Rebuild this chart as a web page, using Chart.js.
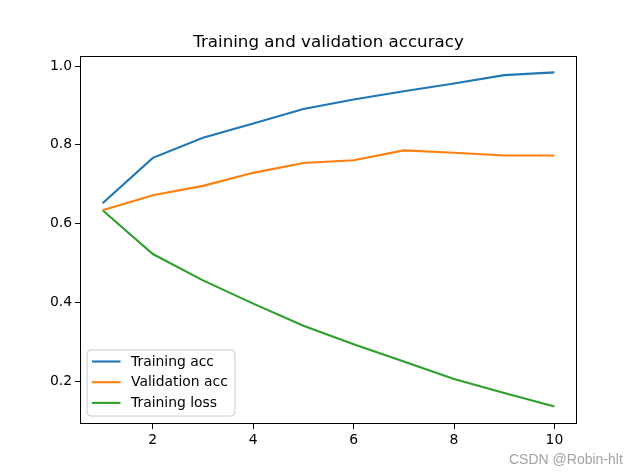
<!DOCTYPE html>
<html>
<head>
<meta charset="utf-8">
<script src="https://cdn.jsdelivr.net/npm/chart.js@4"></script>
<style>
body{margin:0;background:#fff}
#wrap{position:relative;width:640px;height:476px}
#mark{position:absolute;left:509px;top:451px;font:14px "Liberation Sans",Arial,sans-serif;color:#a3a3a3;white-space:nowrap}
</style>
</head>
<body>
<div id="wrap">
<canvas id="accChart" width="640" height="476"></canvas>
<div id="mark">CSDN @Robin-hlt</div>
</div>
<script>
// epochs and history values
const epochs = [1,2,3,4,5,6,7,8,9,10]
const trainAcc = [0.652,0.767,0.818,0.854,0.891,0.915,0.936,0.956,0.977,0.984]
const valAcc = [0.634,0.672,0.696,0.729,0.754,0.761,0.786,0.780,0.773,0.773]
const trainLoss = [0.634,0.523,0.456,0.397,0.341,0.294,0.250,0.206,0.170,0.136]

const xTicks = [2,4,6,8,10]
const yTicks = [0.2,0.4,0.6,0.8,1.0]

const font = "'DejaVu Sans', sans-serif"

function pts(vals){
return epochs.map((e,i)=>({x:e,y:vals[i]}))
}

// box around the axes + matplotlib style legend in lower left
const framePlugin = {
id:"frame",
afterDraw(chart){
const ctx = chart.ctx
const a = chart.chartArea
ctx.save()
ctx.strokeStyle="#000"
ctx.lineWidth=1
ctx.strokeRect(Math.round(a.left)+0.5,Math.round(a.top)+0.5,Math.round(a.right-a.left)-1,Math.round(a.bottom-a.top)-1)

const bx=a.left+7, by=a.bottom-74, bw=148, bh=66, r=4
ctx.beginPath()
ctx.moveTo(bx+r,by)
ctx.arcTo(bx+bw,by,bx+bw,by+bh,r)
ctx.arcTo(bx+bw,by+bh,bx,by+bh,r)
ctx.arcTo(bx,by+bh,bx,by,r)
ctx.arcTo(bx,by,bx+bw,by,r)
ctx.closePath()
ctx.fillStyle="rgba(255,255,255,0.8)"
ctx.fill()
ctx.strokeStyle="#cccccc"
ctx.stroke()

ctx.font="13.9px "+font
ctx.textBaseline="middle"
ctx.fillStyle="#000"
chart.data.datasets.forEach((ds,i)=>{
const y=by+11.5+i*20.7
ctx.beginPath()
ctx.moveTo(bx+5,y)
ctx.lineTo(bx+33.5,y)
ctx.strokeStyle=ds.borderColor
ctx.lineWidth=2.1
ctx.stroke()
ctx.fillText(ds.label,bx+44,y+0.5)
})
ctx.restore()
}
}

new Chart(document.getElementById("accChart"),{
type:"line",
data:{
datasets:[
{label:"Training acc",data:pts(trainAcc),borderColor:"#1f77b4"},
{label:"Validation acc",data:pts(valAcc),borderColor:"#ff7f0e"},
{label:"Training loss",data:pts(trainLoss),borderColor:"#2ca02c"}
]
},
options:{
responsive:false,
animation:false,
layout:{padding:{left:0,right:63,top:0,bottom:0}},
elements:{
line:{borderWidth:2.1,tension:0,fill:false},
point:{radius:0,hoverRadius:0}
},
plugins:{
legend:{display:false},
tooltip:{enabled:false},
title:{
display:true,
fullSize:false,
text:"Training and validation accuracy",
color:"#000",
font:{family:font,size:16.7,weight:"normal"},
padding:{top:33,bottom:3}
}
},
scales:{
x:{
type:"linear",
min:0.55,
max:10.45,
afterBuildTicks(s){s.ticks=xTicks.map(v=>({value:v}))},
afterFit(s){s.height=52},
grid:{drawOnChartArea:false,drawTicks:true,tickLength:5,color:"#000"},
border:{display:false},
ticks:{color:"#000",padding:3,maxRotation:0,font:{family:font,size:13.9},callback:v=>String(v)}
},
y:{
type:"linear",
min:0.0915,
max:1.0255,
afterBuildTicks(s){s.ticks=yTicks.map(v=>({value:v}))},
afterFit(s){s.width=80},
grid:{drawOnChartArea:false,drawTicks:true,tickLength:5,color:"#000"},
border:{display:false},
ticks:{color:"#000",padding:3,font:{family:font,size:13.9},callback:v=>Number(v).toFixed(1)}
}
}
},
plugins:[framePlugin]
})
</script>
</body>
</html>
